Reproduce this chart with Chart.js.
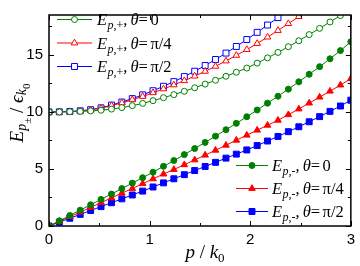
<!DOCTYPE html>
<html>
<head>
<meta charset="utf-8">
<script src="https://cdn.jsdelivr.net/npm/chart.js@4.4.1/dist/chart.umd.min.js"></script>
<style>
  html, body { margin: 0; padding: 0; background: #fff; }
  #wrap { width: 360px; height: 266px; }
</style>
</head>
<body>
<div id="wrap"><canvas id="chart" width="360" height="266"></canvas></div>
<script>
// momentum p / k0 (30 samples)
const P = [0, 0.103, 0.207, 0.310, 0.414, 0.517, 0.621, 0.724, 0.828, 0.931,
  1.034, 1.138, 1.241, 1.345, 1.448, 1.552, 1.655, 1.759, 1.862, 1.966,
  2.069, 2.172, 2.276, 2.379, 2.483, 2.586, 2.690, 2.793, 2.897, 3.000];

// upper branch E_{p,+}
const ePlusT0 = [10.0, 10.0, 10.02, 10.05, 10.09, 10.15, 10.25, 10.38, 10.55, 10.75,
  10.99, 11.25, 11.52, 11.81, 12.12, 12.44, 12.78, 13.13, 13.48, 13.85,
  14.28, 14.74, 15.22, 15.72, 16.24, 16.78, 17.33, 17.89, 18.45, 19.02];
const ePlusT45 = [10.0, 10.01, 10.03, 10.08, 10.18, 10.33, 10.55, 10.8, 11.07, 11.36,
  11.68, 12.02, 12.37, 12.74, 13.14, 13.56, 14.0, 14.47, 14.96, 15.47,
  16.0, 16.56, 17.14, 17.74, 18.36, 18.99, null, null, null, null];
const ePlusT90 = [10.0, 10.01, 10.04, 10.1, 10.2, 10.36, 10.6, 10.87, 11.17, 11.5,
  11.86, 12.25, 12.66, 13.1, 13.57, 14.07, 14.6, 15.16, 15.74, 16.35,
  16.98, 17.62, 18.27, 18.93, null, null, null, null, null, null];

// lower branch E_{p,-}
const eMinusT0 = [0, 0.45, 0.92, 1.39, 1.86, 2.33, 2.8, 3.28, 3.76, 4.24,
  4.72, 5.23, 5.74, 6.26, 6.79, 7.33, 7.88, 8.44, 9.0, 9.58,
  10.17, 10.77, 11.38, 12.0, 12.64, 13.3, 13.97, 14.66, 15.38, 16.15];
const eMinusT45 = [0, 0.4, 0.81, 1.22, 1.63, 2.05, 2.46, 2.88, 3.29, 3.71,
  4.13, 4.55, 4.95, 5.37, 5.79, 6.21, 6.64, 7.08, 7.52, 7.96,
  8.4, 8.83, 9.27, 9.76, 10.26, 10.78, 11.3, 11.82, 12.36, 12.92];
const eMinusT90 = [0, 0.34, 0.68, 1.02, 1.36, 1.7, 2.04, 2.38, 2.72, 3.06,
  3.42, 3.78, 4.14, 4.5, 4.86, 5.22, 5.58, 5.95, 6.3, 6.67,
  7.05, 7.45, 7.85, 8.27, 8.7, 9.14, 9.59, 10.05, 10.52, 11.03];

const thetaLabels = ['0', 'π/4', 'π/2'];
const xTicks = [0, 1, 2, 3];
const xMinor = [0.5, 1.5, 2.5];
const yTicks = [0, 5, 10, 15];
const yMinor = [2.5, 7.5, 12.5, 17.5];

const GREEN = '#008000', RED = '#ff0000', BLUE = '#0000ff';
const SERIF = '"Liberation Serif", "Times New Roman", serif';
const SANS = '"Liberation Sans", Arial, sans-serif';

function series(arr, color, style, filled, radius) {
  return {
    data: P.map((x, i) => ({ x: x, y: arr[i] })),
    borderColor: color,
    backgroundColor: filled ? color : '#fff',
    pointBackgroundColor: filled ? color : '#fff',
    pointBorderColor: color,
    pointStyle: style,
    pointRadius: radius,
    pointBorderWidth: 1,
    borderWidth: 1,
    fill: false,
    tension: 0,
    spanGaps: false
  };
}

const upperSets = [
  series(ePlusT0, GREEN, 'circle', false, 3),
  series(ePlusT45, RED, 'triangle', false, 3.8),
  series(ePlusT90, BLUE, 'rect', false, 4.2)
];
const lowerSets = [
  series(eMinusT0, GREEN, 'circle', true, 3),
  series(eMinusT45, RED, 'triangle', true, 3.8),
  series(eMinusT90, BLUE, 'rect', true, 4.2)
];

function drawRich(ctx, x, y, parts) {
  let cx = x;
  parts.forEach(p => {
    ctx.font = p.f;
    ctx.fillText(p.t, cx, y + (p.dy || 0));
    cx += ctx.measureText(p.t).width + (p.gap || 0);
  });
  return cx - x;
}
function richWidth(ctx, parts) {
  let w = 0;
  parts.forEach(p => { ctx.font = p.f; w += ctx.measureText(p.t).width + (p.gap || 0); });
  return w;
}

function legendParts(sign, theta) {
  return [
    { t: 'E', f: 'italic 16.5px ' + SERIF, gap: 0.5 },
    { t: 'p', f: 'italic 12px ' + SERIF, dy: 4 },
    { t: ',' + sign, f: '12px ' + SERIF, dy: 4 },
    { t: ',', f: '16.5px ' + SERIF, gap: 3 },
    { t: 'θ', f: 'italic 16.5px ' + SERIF },
    { t: '=', f: '16.5px ' + SERIF, gap: 2.5 },
    { t: theta, f: '16.5px ' + SERIF }
  ];
}

function drawMarker(ctx, ds, x, y) {
  ctx.fillStyle = ds.pointBackgroundColor;
  ctx.strokeStyle = ds.pointBorderColor;
  ctx.lineWidth = 1;
  Chart.helpers.drawPoint(ctx, { pointStyle: ds.pointStyle, radius: ds.pointRadius, rotation: 0, borderWidth: 1 }, x, y);
}

const decor = {
  id: 'decor',
  afterDatasetsDraw(chart) {
    const ctx = chart.ctx, a = chart.chartArea;
    const xs = chart.scales.x, ys = chart.scales.y;
    ctx.save();
    // inward ticks on all sides
    ctx.strokeStyle = '#000';
    ctx.lineWidth = 1;
    ctx.beginPath();
    const xt = (v, len) => {
      const px = Math.round(xs.getPixelForValue(v)) + 0.5;
      ctx.moveTo(px, a.bottom); ctx.lineTo(px, a.bottom - len);
      ctx.moveTo(px, a.top); ctx.lineTo(px, a.top + len);
    };
    const yt = (v, len) => {
      const py = Math.round(ys.getPixelForValue(v)) + 0.5;
      ctx.moveTo(a.left, py); ctx.lineTo(a.left + len, py);
      ctx.moveTo(a.right, py); ctx.lineTo(a.right - len, py);
    };
    xTicks.forEach(v => xt(v, 5));
    xMinor.forEach(v => xt(v, 3));
    yTicks.forEach(v => yt(v, 5));
    yMinor.forEach(v => yt(v, 3));
    ctx.stroke();
    ctx.lineWidth = 1.5;
    ctx.strokeRect(a.left, a.top, a.width, a.height);

    // legends
    ctx.textBaseline = 'alphabetic';
    ctx.textAlign = 'left';
    const drawLegend = (sets, sign, rows, x1, x2, tx) => {
      sets.forEach((ds, i) => {
        const y = rows[i];
        ctx.strokeStyle = ds.borderColor;
        ctx.lineWidth = 1;
        ctx.beginPath();
        ctx.moveTo(x1, y); ctx.lineTo(x2, y);
        ctx.stroke();
        drawMarker(ctx, ds, (x1 + x2) / 2, y);
        ctx.fillStyle = '#000';
        drawRich(ctx, tx, y + 5.5, legendParts(sign, thetaLabels[i]));
      });
    };
    drawLegend(upperSets, '+', [19.5, 43, 66.5], 57, 92, 97);
    drawLegend(lowerSets, '-', [165.5, 188.5, 211.5], 236, 268, 272);

    // axis titles
    ctx.fillStyle = '#000';
    const xParts = [
      { t: 'p', f: 'italic 19px ' + SERIF },
      { t: ' / ', f: '19px ' + SERIF },
      { t: 'k', f: 'italic 19px ' + SERIF },
      { t: '0', f: '13px ' + SERIF, dy: 4 }
    ];
    const xw = richWidth(ctx, xParts);
    drawRich(ctx, 205 - xw / 2, 258, xParts);

    const yParts = [
      { t: 'E', f: 'italic 19px ' + SERIF },
      { t: 'p', f: 'italic 14px ' + SERIF, dy: 3 },
      { t: '±', f: '11px ' + SERIF, dy: 8 },
      { t: ' / ', f: '19px ' + SERIF },
      { t: 'ϵ', f: 'italic 19px ' + SERIF },
      { t: 'k', f: 'italic 14px ' + SERIF, dy: 3 },
      { t: '0', f: '11px ' + SERIF, dy: 7 }
    ];
    const yw = richWidth(ctx, yParts);
    ctx.translate(23, 113);
    ctx.rotate(-Math.PI / 2);
    drawRich(ctx, -yw / 2, 0, yParts);
    ctx.restore();
  }
};

new Chart(document.getElementById('chart'), {
  type: 'line',
  data: { datasets: upperSets.concat(lowerSets) },
  options: {
    responsive: false,
    animation: false,
    layout: { padding: { top: 6, right: 9, left: 0, bottom: 0 } },
    plugins: { legend: { display: false }, tooltip: { enabled: false } },
    scales: {
      x: {
        type: 'linear', min: 0, max: 3,
        grid: { display: false, drawTicks: false },
        border: { display: false },
        afterBuildTicks: s => { s.ticks = xTicks.map(v => ({ value: v })); },
        afterFit: s => { s.height = 40; },
        ticks: { padding: 5, color: '#000', font: { family: SANS, size: 15 }, maxRotation: 0 }
      },
      y: {
        type: 'linear', min: 0, max: 18.5,
        grid: { display: false, drawTicks: false },
        border: { display: false },
        afterBuildTicks: s => { s.ticks = yTicks.map(v => ({ value: v })); },
        afterFit: s => { s.width = 49; },
        ticks: { padding: 6, color: '#000', font: { family: SANS, size: 15 } }
      }
    }
  },
  plugins: [decor]
});
</script>
</body>
</html>
